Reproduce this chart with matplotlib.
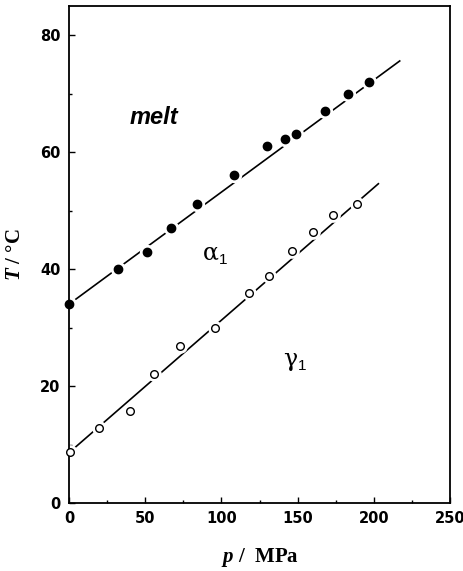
import matplotlib
matplotlib.use("Agg")
import matplotlib.pyplot as plt
from matplotlib.ticker import MultipleLocator

# alpha_1 boundary (filled circles)
p_alpha = [0, 32, 51, 67, 84, 108, 130, 142, 149, 168, 183, 197]
T_alpha = [34.0, 40.0, 43.0, 47.0, 51.2, 56.1, 61.0, 62.2, 63.1, 67.0, 69.9, 72.0]
fit_alpha_p = [0, 217]
fit_alpha_T = [34.0, 75.6]

# gamma_1 boundary (open circles)
p_gamma = [0.5, 20, 40, 56, 73, 96, 118, 131, 146, 160, 173, 189]
T_gamma = [8.8, 12.9, 15.8, 22.0, 26.9, 30.0, 35.9, 38.8, 43.1, 46.3, 49.2, 51.2]
fit_gamma_p = [0, 203]
fit_gamma_T = [8.6, 54.6]

plt.rcParams["mathtext.fontset"] = "custom"
plt.rcParams["mathtext.rm"] = "Liberation Sans"
plt.rcParams["mathtext.it"] = "Liberation Serif:italic:bold"
plt.rcParams["mathtext.bf"] = "Liberation Serif:bold"

fig = plt.figure(figsize=(4.64, 5.71), dpi=100)
ax = fig.add_axes([69 / 464, 1 - 503 / 571, (450 - 69) / 464, (503 - 6) / 571])

# fitted lines, broken around the markers by white halos
ax.plot(fit_alpha_p, fit_alpha_T, color="black", lw=1.2, zorder=1)
ax.plot(fit_gamma_p, fit_gamma_T, color="black", lw=1.2, zorder=1)
ax.plot(p_alpha, T_alpha, "o", ms=10, color="white", mec="white", zorder=2, clip_on=False)
ax.plot(p_gamma, T_gamma, "o", ms=9.5, color="white", mec="white", zorder=2, clip_on=False)
ax.plot(p_alpha, T_alpha, "o", ms=6, color="black", mec="black", zorder=3, clip_on=False)
ax.plot(p_gamma, T_gamma, "o", ms=5.5, mfc="white", mec="black", mew=1.0, zorder=3, clip_on=False)

ax.text(55.4, 66, "melt", fontsize=17, fontweight="bold", fontstyle="italic",
        ha="center", va="center", family="Liberation Sans")
ax.text(98, 42.7, "α", fontsize=17, ha="right", va="center", family="DejaVu Serif")
ax.text(98.5, 41.6, "1", fontsize=11, ha="left", va="center", family="Liberation Sans")
ax.text(150, 24.6, "γ", fontsize=17, ha="right", va="center", family="DejaVu Serif")
ax.text(150.5, 23.5, "1", fontsize=11, ha="left", va="center", family="Liberation Sans")

ax.set_xlim(0, 250)
ax.set_ylim(0, 85)
ax.xaxis.set_major_locator(MultipleLocator(50))
ax.xaxis.set_minor_locator(MultipleLocator(25))
ax.yaxis.set_major_locator(MultipleLocator(20))
ax.yaxis.set_minor_locator(MultipleLocator(10))
ax.tick_params(which="both", direction="in", top=False, right=False, width=1.0)
ax.tick_params(which="major", length=4, pad=6)
ax.tick_params(which="minor", length=2.5)
for lab in ax.get_xticklabels() + ax.get_yticklabels():
    lab.set_fontweight("bold")
    lab.set_fontsize(10.5)
    lab.set_family("DejaVu Sans")
for s in ax.spines.values():
    s.set_linewidth(1.3)

ax.set_xlabel(r"$\mathit{p}$ /  MPa", fontsize=15, fontweight="bold",
              family="Liberation Serif", labelpad=14)
ax.set_ylabel(r"$\mathit{T}$ / °C", fontsize=15, fontweight="bold",
              family="Liberation Serif", labelpad=11)

fig.savefig("out.png", dpi=100)
